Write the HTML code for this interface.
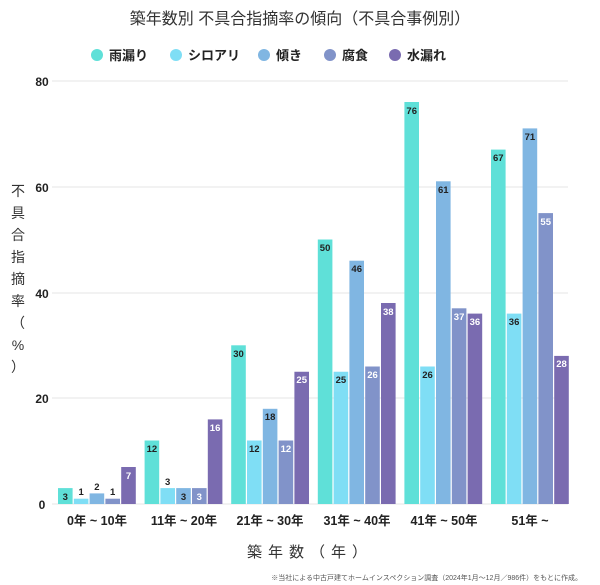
<!DOCTYPE html>
<html><head><meta charset="utf-8"><style>
body{margin:0;background:#fff;}
svg{display:block;font-family:"Liberation Sans","Noto Sans CJK JP",sans-serif;}
</style></head><body>
<svg width="600" height="585" viewBox="0 0 600 585" xmlns="http://www.w3.org/2000/svg">
<rect width="600" height="585" fill="#fff"/>
<text x="300" y="24" text-anchor="middle" font-size="16" fill="#333">築年数別 不具合指摘率の傾向（不具合事例別）</text>
<g font-size="13" font-weight="bold" fill="#222">
<circle cx="97" cy="55" r="6" fill="#5fe0d8"/><text x="109" y="60">雨漏り</text>
<circle cx="176" cy="55" r="6" fill="#7fdef5"/><text x="188" y="60">シロアリ</text>
<circle cx="264" cy="55" r="6" fill="#80b6e2"/><text x="276" y="60">傾き</text>
<circle cx="330" cy="55" r="6" fill="#8193c9"/><text x="342" y="60">腐食</text>
<circle cx="395" cy="55" r="6" fill="#7a6bb0"/><text x="407" y="60">水漏れ</text>
</g>
<g stroke="#e6e6e6" stroke-width="1">
<line x1="52" y1="81" x2="568" y2="81"/><line x1="52" y1="187" x2="568" y2="187"/>
<line x1="52" y1="293" x2="568" y2="293"/><line x1="52" y1="398" x2="568" y2="398"/>
<line x1="52" y1="504" x2="568" y2="504"/>
</g>
<g font-size="12" font-weight="bold" fill="#222" text-anchor="middle">
<text x="42" y="86">80</text><text x="42" y="192">60</text><text x="42" y="298">40</text><text x="42" y="403">20</text><text x="42" y="509">0</text>
</g>
<g font-size="14" fill="#333" text-anchor="middle">
<text x="18" y="196">不</text><text x="18" y="218">具</text><text x="18" y="240">合</text><text x="18" y="262">指</text><text x="18" y="284">摘</text><text x="18" y="306">率</text><text x="18" y="328">（</text><text x="18" y="350">%</text><text x="18" y="372">）</text>
</g>
<g>
<rect x="58" y="488.1" width="14.6" height="15.9" fill="#5fe0d8"/>
<rect x="73.8" y="498.7" width="14.6" height="5.3" fill="#7fdef5"/>
<rect x="89.6" y="493.4" width="14.6" height="10.6" fill="#80b6e2"/>
<rect x="105.4" y="498.7" width="14.6" height="5.3" fill="#8193c9"/>
<rect x="121.2" y="467" width="14.6" height="37" fill="#7a6bb0"/>

<rect x="144.6" y="440.5" width="14.6" height="63.5" fill="#5fe0d8"/>
<rect x="160.4" y="488.1" width="14.6" height="15.9" fill="#7fdef5"/>
<rect x="176.2" y="488.1" width="14.6" height="15.9" fill="#80b6e2"/>
<rect x="192" y="488.1" width="14.6" height="15.9" fill="#8193c9"/>
<rect x="207.8" y="419.4" width="14.6" height="84.6" fill="#7a6bb0"/>

<rect x="231.2" y="345.3" width="14.6" height="158.7" fill="#5fe0d8"/>
<rect x="247" y="440.5" width="14.6" height="63.5" fill="#7fdef5"/>
<rect x="262.8" y="408.8" width="14.6" height="95.2" fill="#80b6e2"/>
<rect x="278.6" y="440.5" width="14.6" height="63.5" fill="#8193c9"/>
<rect x="294.4" y="371.75" width="14.6" height="132.25" fill="#7a6bb0"/>

<rect x="317.8" y="239.5" width="14.6" height="264.5" fill="#5fe0d8"/>
<rect x="333.6" y="371.75" width="14.6" height="132.25" fill="#7fdef5"/>
<rect x="349.4" y="260.7" width="14.6" height="243.3" fill="#80b6e2"/>
<rect x="365.2" y="366.5" width="14.6" height="137.5" fill="#8193c9"/>
<rect x="381" y="303" width="14.6" height="201" fill="#7a6bb0"/>

<rect x="404.4" y="102" width="14.6" height="402" fill="#5fe0d8"/>
<rect x="420.2" y="366.5" width="14.6" height="137.5" fill="#7fdef5"/>
<rect x="436" y="181.3" width="14.6" height="322.7" fill="#80b6e2"/>
<rect x="451.8" y="308.3" width="14.6" height="195.7" fill="#8193c9"/>
<rect x="467.6" y="313.6" width="14.6" height="190.4" fill="#7a6bb0"/>

<rect x="491" y="149.6" width="14.6" height="354.4" fill="#5fe0d8"/>
<rect x="506.8" y="313.6" width="14.6" height="190.4" fill="#7fdef5"/>
<rect x="522.6" y="128.4" width="14.6" height="375.6" fill="#80b6e2"/>
<rect x="538.4" y="213.1" width="14.6" height="290.9" fill="#8193c9"/>
<rect x="554.2" y="355.9" width="14.6" height="148.1" fill="#7a6bb0"/>
</g>
<g font-size="9.5" font-weight="bold" text-anchor="middle" fill="#222">
<text x="65.3" y="500">3</text><text x="81.1" y="495">1</text><text x="96.9" y="490">2</text><text x="112.7" y="495">1</text><text x="128.5" y="479" fill="#fff">7</text>
<text x="151.9" y="452">12</text><text x="167.7" y="485">3</text><text x="183.5" y="500">3</text><text x="199.3" y="500" fill="#fff">3</text><text x="215.1" y="431" fill="#fff">16</text>
<text x="238.5" y="357">30</text><text x="254.3" y="452">12</text><text x="270.1" y="420">18</text><text x="285.9" y="452" fill="#fff">12</text><text x="301.7" y="383" fill="#fff">25</text>
<text x="325.1" y="251">50</text><text x="340.9" y="383">25</text><text x="356.7" y="272">46</text><text x="372.5" y="378" fill="#fff">26</text><text x="388.3" y="315" fill="#fff">38</text>
<text x="411.7" y="114">76</text><text x="427.5" y="378">26</text><text x="443.3" y="193">61</text><text x="459.1" y="320" fill="#fff">37</text><text x="474.9" y="325" fill="#fff">36</text>
<text x="498.3" y="161">67</text><text x="514.1" y="325">36</text><text x="529.9" y="140">71</text><text x="545.7" y="225" fill="#fff">55</text><text x="561.5" y="367" fill="#fff">28</text>
</g>
<g font-size="12.5" font-weight="bold" fill="#222" text-anchor="middle">
<text x="97" y="525">0年 ~ 10年</text><text x="184" y="525">11年 ~ 20年</text><text x="270" y="525">21年 ~ 30年</text><text x="357" y="525">31年 ~ 40年</text><text x="444" y="525">41年 ~ 50年</text><text x="530" y="525">51年 ~</text>
</g>
<text x="310" y="557" text-anchor="middle" font-size="15" fill="#333" letter-spacing="6">築年数（年）</text>
<text x="582" y="580" text-anchor="end" font-size="7" fill="#555">※当社による中古戸建てホームインスペクション調査（2024年1月～12月／986件）をもとに作成。</text>
</svg>
</body></html>
